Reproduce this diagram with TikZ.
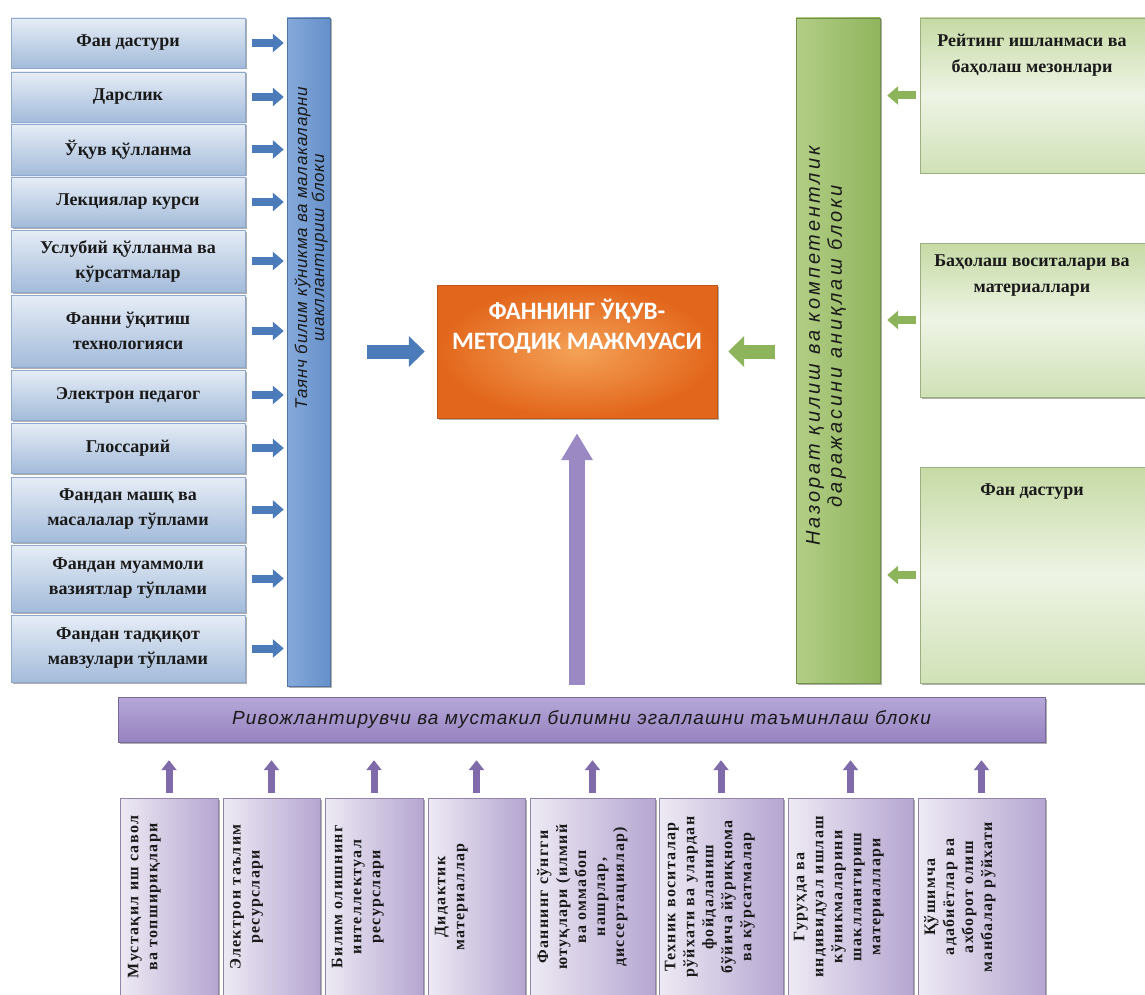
\documentclass[tikz,border=0pt]{standalone}
\usepackage{fontspec}
\setmainfont{Liberation Serif}
\newfontfamily\bluebarfont[LetterSpace=4]{Liberation Sans}
\newfontfamily\greenbarfont[LetterSpace=15]{Liberation Sans}
\newfontfamily\purpbarfont[LetterSpace=6]{Liberation Sans}
\newfontfamily\titlefont{Carlito}
\newfontfamily\bottomserif[LetterSpace=8]{Liberation Serif}
\usetikzlibrary{arrows.meta,shadows}

\definecolor{txt}{HTML}{1A1A1A}
\definecolor{lbt}{HTML}{E6EDF6}
\definecolor{lbb}{HTML}{A3BBDA}
\definecolor{lbd}{HTML}{8FA8CC}
\definecolor{bbarL}{HTML}{86A9DA}
\definecolor{bbarR}{HTML}{6590CA}
\definecolor{barr}{HTML}{4C7BBA}
\definecolor{orO}{HTML}{E2661B}
\definecolor{orI}{HTML}{F4A257}
\definecolor{gbarL}{HTML}{B2CE86}
\definecolor{gbarR}{HTML}{90B45D}
\definecolor{gbt}{HTML}{C6DAA4}
\definecolor{gbm}{HTML}{EEF4E5}
\definecolor{gbb}{HTML}{D0E1B6}
\definecolor{garr}{HTML}{8DB45A}
\definecolor{pbarT}{HTML}{B6A8D8}
\definecolor{pbarB}{HTML}{9682C0}
\definecolor{pbl}{HTML}{EEEAF4}
\definecolor{pbr}{HTML}{B5A6D1}
\definecolor{parr}{HTML}{7F6BAA}
\definecolor{pbig}{HTML}{9B89C4}

\begin{document}
\begin{tikzpicture}[x=1pt,y=-1pt,
  shad/.style={drop shadow={shadow xshift=1.5pt,shadow yshift=-1.5pt,opacity=.45,fill=black!70}},
  lbox/.style={rectangle,inner sep=2pt,minimum width=234pt,top color=lbt,bottom color=lbb,draw=lbd,line width=.4pt,align=center,font=\bfseries\fontsize{18}{25}\selectfont,text=txt,shad},
  gbox/.style={rectangle,inner sep=0pt,minimum width=230pt,top color=gbt,bottom color=gbb,middle color=gbm,draw=gbt!80!black,line width=.4pt,shad},
  gtext/.style={anchor=north,inner sep=0pt,align=center,font=\bfseries\fontsize{18}{26}\selectfont,text=txt},
  pbox/.style={rectangle,inner sep=0pt,minimum height=202pt,left color=pbl,right color=pbr,draw=pbr!80!black,line width=.4pt,shad},
  btext/.style={rotate=90,anchor=north,inner sep=0pt,align=center,font=\bottomserif\bfseries\fontsize{16}{19}\selectfont,text=txt},
  sarrB/.style={draw=barr,line width=8pt,-{Triangle[length=11pt,width=18pt]},shorten <=7pt,shorten >=3pt},
  sarrG/.style={draw=garr,line width=8pt,-{Triangle[length=11pt,width=18pt]},shorten <=4pt,shorten >=7pt},
  sarrP/.style={draw=parr,line width=7pt,-{Triangle[length=10pt,width=15pt]},shorten <=5pt,shorten >=18pt},
  bigarr/.style={line width=14pt,-{Triangle[length=16pt,width=30pt]}}
]
\useasboundingbox (0,0) rectangle (1145,995);
\clip (0,0) rectangle (1145,995);
\fill[white] (0,0) rectangle (1145,995);

% bars
\node[rectangle,inner sep=0pt,minimum width=43pt,minimum height=668pt,left color=bbarL,right color=bbarR,draw=bbarR!80!black,line width=.4pt,shad] (bbar) at (308.5,352) {};
\node[rectangle,inner sep=0pt,minimum width=84pt,minimum height=665pt,left color=gbarL,right color=gbarR,draw=gbarR!80!black,line width=.4pt,shad] (gbar) at (838,350.5) {};
\node[rectangle,inner sep=0pt,minimum width=927pt,minimum height=45pt,top color=pbarT,bottom color=pbarB,draw=pbarB!80!black,line width=.4pt,shad,font=\purpbarfont\itshape\fontsize{19}{20}\selectfont,text=txt] (pbar) at (581.5,719.5) {Ривожлантирувчи ва мустакил билимни эгаллашни таъминлаш блоки};

\node[rotate=90,align=center,inner sep=0pt,font=\bluebarfont\itshape\fontsize{17}{17}\selectfont,text=txt] (btxt) at (311,248) {Таянч билим кўникма ва малакаларни\\шакллантириш блоки};
\node[rotate=90,align=center,inner sep=0pt,font=\greenbarfont\itshape\fontsize{20}{22}\selectfont,text=txt] (gtxt) at (826,346) {Назорат қилиш ва компетентлик\\даражасини аниқлаш блоки};

% central box
\node[rectangle,inner sep=0pt,minimum width=280pt,minimum height=133pt,shading=radial,inner color=orI,outer color=orO,draw=orO!85!black,line width=.4pt,shad] (orange) at (577,351.5) {};
\node[inner sep=0pt,align=center,font=\titlefont\bfseries\fontsize{25}{30}\selectfont,text=white] (otxt) at (577,326) {ФАННИНГ ЎҚУВ-\\МЕТОДИК МАЖМУАСИ};

% left boxes
\node[lbox,minimum height=50pt] (l1) at (128,43) {Фан дастури};
\node[lbox,minimum height=50pt] (l2) at (128,97) {Дарслик};
\node[lbox,minimum height=51pt] (l3) at (128,149.5) {Ўқув қўлланма};
\node[lbox,minimum height=50pt] (l4) at (128,202) {Лекциялар курси};
\node[lbox,minimum height=62pt] (l5) at (128,261) {Услубий қўлланма ва\\кўрсатмалар};
\node[lbox,minimum height=72pt] (l6) at (128,331) {Фанни ўқитиш\\технологияси};
\node[lbox,minimum height=50pt] (l7) at (128,395) {Электрон педагог};
\node[lbox,minimum height=50pt] (l8) at (128,448) {Глоссарий};
\node[lbox,minimum height=65pt] (l9) at (128,509.5) {Фандан машқ ва\\масалалар тўплами};
\node[lbox,minimum height=67pt] (l10) at (128,578.5) {Фандан муаммоли\\вазиятлар тўплами};
\node[lbox,minimum height=67pt] (l11) at (128,648.5) {Фандан тадқиқот\\мавзулари тўплами};

\foreach \i in {1,...,11} {
  \draw[sarrB] (l\i.east) -- (l\i.east -| bbar.west);
}

% right boxes
\node[gbox,minimum height=155pt] (g1) at (1035,95.5) {};
\node[gbox,minimum height=154pt] (g2) at (1035,320) {};
\node[gbox,minimum height=216pt] (g3) at (1035,575) {};
\node[gtext] (g1t) at ([yshift=-16pt]g1.north -| 1032,0) {Рейтинг ишланмаси ва\\баҳолаш мезонлари};
\node[gtext] (g2t) at ([yshift=-12pt]g2.north -| 1032,0) {Баҳолаш воситалари ва\\материаллари};
\node[gtext] (g3t) at ([yshift=-17pt]g3.north -| 1032,0) {Фан дастури};

\foreach \i in {1,2,3} {
  \draw[sarrG] (g\i.west) -- (g\i.west -| gbar.east);
}

% bottom boxes
\node[pbox,minimum width=98pt] (b1) at (169,899) {};
\node[pbox,minimum width=97pt] (b2) at (271.5,899) {};
\node[pbox,minimum width=98pt] (b3) at (374,899) {};
\node[pbox,minimum width=97pt] (b4) at (476.5,899) {};
\node[pbox,minimum width=125pt] (b5) at (592.5,899) {};
\node[pbox,minimum width=124pt] (b6) at (721,899) {};
\node[pbox,minimum width=125pt] (b7) at (850.5,899) {};
\node[pbox,minimum width=127pt] (b8) at (981.5,899) {};

\node[btext] (t1) at ([xshift=8pt,yshift=2pt]b1.west) {Мустақил иш савол\\ва топшириқлари};
\node[btext] (t2) at ([xshift=7pt,yshift=2pt]b2.west) {Электрон таълим\\ресурслари};
\node[btext] (t3) at ([xshift=7pt,yshift=2pt]b3.west) {Билим олишнинг\\интеллектуал\\ресурслари};
\node[btext] (t4) at ([xshift=7pt,yshift=2pt]b4.west) {Дидактик\\материаллар};
\node[btext] (t5) at ([xshift=7pt,yshift=2pt]b5.west) {Фаннинг сўнгги\\ютуқлари (илмий\\ва оммабоп\\нашрлар,\\диссертациялар)};
\node[btext] (t6) at ([xshift=6pt,yshift=2pt]b6.west) {Техник воситалар\\рўйхати ва улардан\\фойдаланиш\\бўйича йўриқнома\\ва кўрсатмалар};
\node[btext] (t7) at ([xshift=6pt,yshift=2pt]b7.west) {Гуруҳда ва\\индивидуал ишлаш\\кўникмаларини\\шакллантириш\\материаллари};
\node[btext] (t8) at ([xshift=6pt,yshift=2pt]b8.west) {Қўшимча\\адабиётлар ва\\ахборот олиш\\манбалар рўйхати};

\foreach \i in {1,...,8} {
  \draw[sarrP] (b\i.north) -- (b\i.north |- pbar.south);
}

% big arrows
\draw[bigarr,draw=barr,shorten <=37pt,shorten >=12pt] (bbar.east |- orange.west) -- (orange.west);
\draw[bigarr,draw=garr,shorten <=21pt,shorten >=11pt] (gbar.west |- orange.east) -- (orange.east);
\draw[line width=16pt,draw=pbig,-{Triangle[length=27pt,width=30pt]},shorten <=12pt,shorten >=15pt] (pbar.north -| orange.south) -- (orange.south);
\end{tikzpicture}
\end{document}
